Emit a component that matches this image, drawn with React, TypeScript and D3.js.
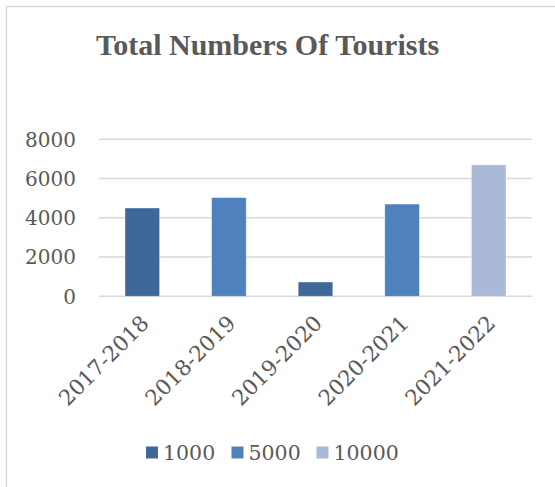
import React from "react";
import * as d3 from "d3";

const categories = ["2017-2018", "2018-2019", "2019-2020", "2020-2021", "2021-2022"];
const values = [4500, 5030, 730, 4700, 6700];
const seriesOfBar = ["1000", "5000", "1000", "5000", "10000"];
const legendLabels = ["1000", "5000", "10000"];
const legendColors = ["#3F6899", "#4F81BD", "#AAB9D7"];
const yTicks = [0, 2000, 4000, 6000, 8000];

const W = 555;
const H = 487;
const plotLeft = 99;
const plotRight = 532;
const plotTop = 139.3;
const plotBottom = 296.3;

export default function App() {
  const x = d3
    .scaleBand<string>()
    .domain(categories)
    .range([plotLeft, plotRight])
    .paddingInner(0.6)
    .paddingOuter(0.3);
  const y = d3.scaleLinear().domain([0, 8000]).range([plotBottom, plotTop]);
  const color = d3.scaleOrdinal<string, string>().domain(legendLabels).range(legendColors);
  const textColor = "#595959";
  const legendX = [146, 231.5, 316.5];

  return (
    <svg
      width={W}
      height={H}
      style={{ position: "absolute", left: 0, top: 0, background: "#fff" }}
    >
      <rect x={0} y={0} width={W} height={H} fill="#fff" />
      <line x1={6.5} y1={6.5} x2={W} y2={6.5} stroke="#D9D9D9" strokeWidth={1.5} />
      <line x1={6.5} y1={6.5} x2={6.5} y2={H} stroke="#D9D9D9" strokeWidth={1.5} />
      <text
        x={267.5}
        y={54.5}
        textAnchor="middle"
        fontFamily="'Liberation Serif', serif"
        fontWeight="bold"
        fontSize={30}
        fill={textColor}
      >
        Total Numbers Of Tourists
      </text>
      {yTicks.map((t) => (
        <g key={t}>
          <line
            x1={plotLeft}
            x2={plotRight}
            y1={y(t)}
            y2={y(t)}
            stroke="#D9D9D9"
            strokeWidth={1.4}
          />
          <text
            x={76}
            y={y(t)}
            dy="0.36em"
            textAnchor="end"
            fontFamily="'DejaVu Serif', serif"
            fontSize={20}
            fill={textColor}
          >
            {t}
          </text>
        </g>
      ))}
      {categories.map((c, i) => (
        <rect
          key={c}
          x={x(c)!}
          y={y(values[i])}
          width={x.bandwidth()}
          height={y(0) - y(values[i])}
          fill={color(seriesOfBar[i])}
          stroke="#ffffff"
          strokeOpacity={0.5}
          strokeWidth={0.8}
        />
      ))}
      {categories.map((c) => {
        const cx = x(c)! + x.bandwidth() / 2 + 2.5;
        const cy = 319;
        return (
          <text
            key={c}
            transform={`translate(${cx},${cy}) rotate(-45)`}
            textAnchor="end"
            fontFamily="'DejaVu Serif', serif"
            fontSize={21.5}
            fill={textColor}
            dy="0.36em"
          >
            {c}
          </text>
        );
      })}
      {legendLabels.map((l, i) => (
        <g key={l}>
          <rect x={legendX[i]} y={446.5} width={12} height={12} fill={legendColors[i]} />
          <text
            x={legendX[i] + 17}
            y={452.5}
            dy="0.36em"
            fontFamily="'DejaVu Serif', serif"
            fontSize={20.5}
            fill={textColor}
          >
            {l}
          </text>
        </g>
      ))}
    </svg>
  );
}
